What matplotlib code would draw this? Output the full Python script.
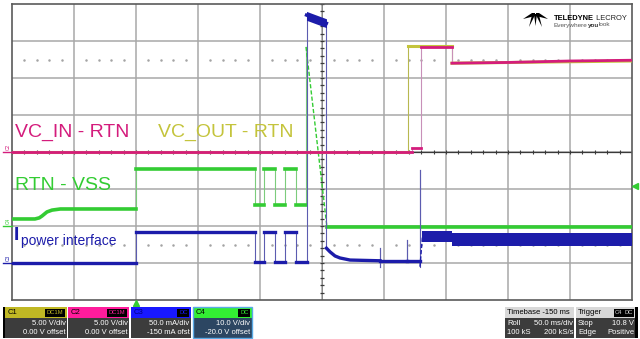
import matplotlib
matplotlib.use('Agg')
import numpy as np
import matplotlib.pyplot as plt
from matplotlib.patches import Rectangle, Polygon

plt.rcParams['font.family'] = ['Liberation Sans', 'DejaVu Sans']

# scope settings: 50 ms/div, 10 divisions, trigger 2 div from the left
t_start, ms_div, n_div = -100, 50, 10

# channel scales (per div) and offsets, as shown in the channel boxes
c1_scale, c1_offset = 5.0, 0.0      # V
c2_scale, c2_offset = 5.0, 0.0      # V
c3_scale, c3_offset = 50.0, -150.0  # mA
c4_scale, c4_offset = 10.0, -20.0   # V
trig_level = 10.8                   # V on C4

# C1  VC_OUT - RTN  (V)
c1_t = [-100, 219.4, 219.4, 254.8, 254.8, 400]
c1_v = [0, 0, 14.3, 14.3, 12.0, 12.3]

# C2  VC_IN - RTN  (V)
c2_t = [-100, 222.6, 222.6, 229.8, 229.8, 254.8, 254.8, 300, 350, 400]
c2_v = [0, 0, 0.5, 0.5, 14.2, 14.2, 12.0, 12.1, 12.3, 12.4]

# C3  I power interface  (mA)
c3_t = [-100, 0, 0, 96, 96, 103.2, 103.2, 112.1, 112.1, 120.2, 120.2, 129.0, 129.0,
        137.5, 137.5, 153.6, 153.6, 156.5, 160.5, 164.5, 172.6, 196.8, 196.8, 196.8,
        196.8, 218.5, 218.5, 218.5, 229.0, 229.0, 229.0, 231.0]
c3_i = [0, 0, 42, 42, 1.4, 1.4, 42, 42, 1.4, 1.4, 42, 42, 1.4,
        1.4, 335, 324, 20, 15, 9.5, 6.8, 4, 3, 20, -5,
        3, 3, 31, 3, 3, 126, -5, 36]
# noisy band after the event (mA envelope)
band_t = [231.0, 254.8, 254.8, 400]
band_lo = [28, 28, 23, 23]
band_hi = [43, 43, 40, 40]
# noisy top of the current pulse (mA envelope)
top_t = [137.5, 153.6]
top_lo = [328, 318]
top_hi = [340, 330]

# C4  RTN - VSS  (V)
c4_t = [-100, -81.5, -78, -75.8, -71.8, -67.7, -61, 0, 0, 96, 96, 103.2, 103.2,
        112.1, 112.1, 120.2, 120.2, 129.0, 129.0, 137.1, 137.1, 154.0, 400]
c4_v = [1.9, 1.9, 2.2, 2.7, 3.8, 4.3, 4.6, 4.6, 15.4, 15.4, 5.7, 5.7, 15.4,
        15.4, 5.7, 5.7, 15.4, 15.4, 5.7, 5.7, 48.4, -0.3, -0.3]

mag = '#d41c7c'
yel = '#c4c43c'
blue = '#1c1caa'
green = '#33cc33'


def to_div(v, scale, offset):
    return (np.asarray(v, float) + offset) / scale


def draw_trace(ax, t, v, scale, offset, color, edge_color, lw, z):
    t = np.asarray(t, float)
    y = to_div(v, scale, offset)
    run_t, run_y = [t[0]], [y[0]]
    for i in range(len(t) - 1):
        dt = t[i + 1] - t[i]
        steep = dt == 0 or abs(y[i + 1] - y[i]) / dt > 0.2
        if steep:
            if len(run_t) > 1:
                ax.plot(run_t, run_y, color=color, lw=lw, zorder=z, solid_joinstyle='round')
            if dt == 0:
                ax.plot(t[i:i + 2], y[i:i + 2], color=edge_color, lw=0.8, zorder=z - 0.5)
            else:
                ax.plot(t[i:i + 2], y[i:i + 2], color=color, lw=1.0, ls=(0, (3, 1.5)), zorder=z)
            run_t, run_y = [t[i + 1]], [y[i + 1]]
        else:
            run_t.append(t[i + 1])
            run_y.append(y[i + 1])
    if len(run_t) > 1:
        ax.plot(run_t, run_y, color=color, lw=lw, zorder=z, solid_joinstyle='round')


fig = plt.figure(figsize=(6.4, 3.39), dpi=100)
fig.patch.set_facecolor('white')
ax = fig.add_axes([12 / 640, 39 / 339, 620 / 640, 296 / 339])
t_end = t_start + ms_div * n_div
ax.set_xlim(t_start, t_end)
ax.set_ylim(-4, 4)
ax.set_xticks([])
ax.set_yticks([])
for s in ax.spines.values():
    s.set_color('#5a5a5a')
    s.set_linewidth(1.2)

# graticule
for k in range(1, n_div):
    ax.axvline(t_start + k * ms_div, color='#a8a8a8', lw=1.1, zorder=1)
for k in range(-3, 4):
    ax.axhline(k, color='#a8a8a8', lw=1.1, zorder=1)
t_mid = t_start + ms_div * n_div / 2
ax.axhline(0, color='#3a3a3a', lw=0.9, zorder=1.5)
ax.axvline(t_mid, color='#808080', lw=0.6, zorder=1.5)
minor_t = np.arange(t_start, t_end + 1, ms_div / 5)
ax.vlines(minor_t, -0.05, 0.05, color='#3a3a3a', lw=0.8, zorder=1.5)
minor_y = np.arange(-4, 4.01, 0.2)
ax.hlines(minor_y, t_mid - 2, t_mid + 2, color='#3a3a3a', lw=0.9, zorder=1.5)
dots_t = minor_t[(minor_t - t_start) % ms_div != 0]
for yy in (2.5, -2.5):
    ax.plot(dots_t, np.full(len(dots_t), yy), ls='none', marker='o', ms=0.8,
            color='#a4a4a4', zorder=1.5)

# traces
draw_trace(ax, c4_t, c4_v, c4_scale, c4_offset, green, '#7ccc7c', 2.6, 3)
ax.fill_between(band_t, to_div(band_lo, c3_scale, c3_offset), to_div(band_hi, c3_scale, c3_offset),
                color=blue, lw=0, zorder=4)
ax.fill_between(top_t, to_div(top_lo, c3_scale, c3_offset), to_div(top_hi, c3_scale, c3_offset),
                color=blue, lw=0, zorder=4)
draw_trace(ax, c3_t, c3_i, c3_scale, c3_offset, blue, '#5c5cb0', 2.4, 4)
draw_trace(ax, c1_t, c1_v, c1_scale, c1_offset, yel, '#b8b850', 2.2, 5)
draw_trace(ax, c2_t, c2_v, c2_scale, c2_offset, mag, '#c890b8', 2.0, 6)

# channel ground markers on the left
x_mark = t_start - 9 / 62 * ms_div
for name, off, sc, col in [('C2', c2_offset, c2_scale, mag), ('C4', c4_offset, c4_scale, green),
                           ('C3', c3_offset, c3_scale, blue)]:
    g = off / sc
    ax.plot([x_mark, t_start], [g, g], color=col, lw=1.0, clip_on=False, zorder=7)
    ax.text(x_mark + 2, g + 0.05, name, fontsize=3.5, color=col, rotation=90,
            ha='left', va='bottom', clip_on=False)

# trigger markers
ax.plot([0], [-4.08], marker='^', ms=5, color=green, clip_on=False, zorder=8)
ax.plot([t_end + 2.5], [(trig_level + c4_offset) / c4_scale], marker='<', ms=5, color=green,
        clip_on=False, zorder=8)

# overlay in pixel coordinates
ov = fig.add_axes([0, 0, 1, 1])
ov.set_xlim(0, 640)
ov.set_ylim(339, 0)
ov.axis('off')
ov.patch.set_alpha(0)

ov.text(15, 136.5, 'VC_IN - RTN', color=mag, fontsize=14, va='baseline')
ov.text(158, 136.5, 'VC_OUT - RTN', color=yel, fontsize=14, va='baseline')
ov.text(15, 190.5, 'RTN - VSS', color=green, fontsize=14, va='baseline')
ov.text(14, 240, 'I', color=blue, fontsize=14, fontweight='bold', va='baseline')
ov.text(21, 244.5, 'power interface', color=blue, fontsize=10, va='baseline')

# logo
ov.add_patch(Polygon([(523, 19), (532, 13), (535, 13), (535, 16)], fc='black', ec='none'))
ov.add_patch(Polygon([(548, 19), (539, 13), (536, 13), (536, 16)], fc='black', ec='none'))
ov.add_patch(Polygon([(532, 15), (535, 15), (529, 27)], fc='black', ec='none'))
ov.add_patch(Polygon([(536, 15), (539, 15), (542, 27)], fc='black', ec='none'))
ov.add_patch(Polygon([(534, 14), (537, 14), (535.5, 26)], fc='black', ec='none'))

renderer = fig.canvas.get_renderer()


def text_run(x, y, parts):
    # write pieces of text one after another on the same baseline
    for s, size, weight, col in parts:
        t = ov.text(x, y, s, fontsize=size, fontweight=weight, color=col, va='baseline')
        bb = t.get_window_extent(renderer)
        x = ov.transData.inverted().transform((bb.x1, bb.y0))[0]


text_run(554, 19.5, [('TELEDYNE', 5.4, 'bold', 'black'), (' LECROY', 5.4, 'normal', '#222222')])
text_run(554, 26.5, [('Everywhere', 4.6, 'normal', '#555555'), ('you', 4.6, 'bold', '#333333'),
                     ('look', 4.6, 'normal', '#555555')])


def chan_box(x0, w, head, name, coupling, l1, l2, body='#3c3c3c', name_col='black', edge=None):
    ov.add_patch(Rectangle((x0, 307), w, 11, fc=head, ec='none'))
    ov.add_patch(Rectangle((x0, 318), w, 20, fc=body, ec='none'))
    if edge:
        ov.add_patch(Rectangle((x0, 307), w, 31, fc='none', ec=edge, lw=1.0))
    ov.text(x0 + 3, 312.8, name, fontsize=5.5, color=name_col, va='center')
    cw = len(coupling) * 4.3 + 3
    ov.add_patch(Rectangle((x0 + w - 2 - cw, 309), cw, 7.5, fc='black', ec='none'))
    ov.text(x0 + w - 2 - cw / 2, 312.8, coupling, fontsize=4.2, color=head, ha='center', va='center')
    ov.text(x0 + w - 1.5, 323.5, l1, fontsize=5.5, color='white', ha='right', va='center')
    ov.text(x0 + w - 1.5, 333, l2, fontsize=5.5, color='white', ha='right', va='center')


ov.add_patch(Rectangle((3, 307), 2, 31, fc='black', ec='none'))
chan_box(5, 62, '#c0b824', 'C1', 'DC1M', '5.00 V/div', '0.00 V offset')
chan_box(68, 61, '#ff1c9c', 'C2', 'DC1M', '5.00 V/div', '0.00 V offset')
chan_box(131, 60, '#1818ff', 'C3', 'DC', '50.0 mA/div', '-150 mA ofst', name_col='#000080')
chan_box(193, 59, '#33ee33', 'C4', 'DC', '10.0 V/div', '-20.0 V offset', body='#2c4662',
         edge='#5aaae6')

# timebase / trigger boxes
ov.add_patch(Rectangle((505, 307), 69, 11, fc='#d8d8d8', ec='none'))
ov.add_patch(Rectangle((505, 318), 69, 20, fc='#3c3c3c', ec='none'))
ov.text(507, 312.8, 'Timebase -150 ms', fontsize=5.5, color='black', va='center')
ov.text(507, 323.5, 'Roll', fontsize=5.5, color='white', va='center')
ov.text(573, 323.5, '50.0 ms/div', fontsize=5.5, color='white', ha='right', va='center')
ov.text(507, 333, '100 kS', fontsize=5.5, color='white', va='center')
ov.text(573, 333, '200 kS/s', fontsize=5.5, color='white', ha='right', va='center')

ov.add_patch(Rectangle((576, 307), 59, 11, fc='#d8d8d8', ec='none'))
ov.add_patch(Rectangle((576, 318), 59, 20, fc='#3c3c3c', ec='none'))
ov.add_patch(Rectangle((635, 307), 3, 31, fc='black', ec='none'))
ov.text(578, 312.8, 'Trigger', fontsize=5.5, color='black', va='center')
for bx, lab in [(614, 'C4'), (624, 'DC')]:
    ov.add_patch(Rectangle((bx, 309), 9.5, 7.5, fc='black', ec='none'))
    ov.text(bx + 4.75, 312.8, lab, fontsize=4.2, color='#d8d8d8', ha='center', va='center')
ov.text(578, 323.5, 'Stop', fontsize=5.5, color='white', va='center')
ov.text(634, 323.5, '10.8 V', fontsize=5.5, color='white', ha='right', va='center')
ov.text(578, 333, 'Edge', fontsize=5.5, color='white', va='center')
ov.text(634, 333, 'Positive', fontsize=5.5, color='white', ha='right', va='center')

fig.savefig('out.png', dpi=100)
